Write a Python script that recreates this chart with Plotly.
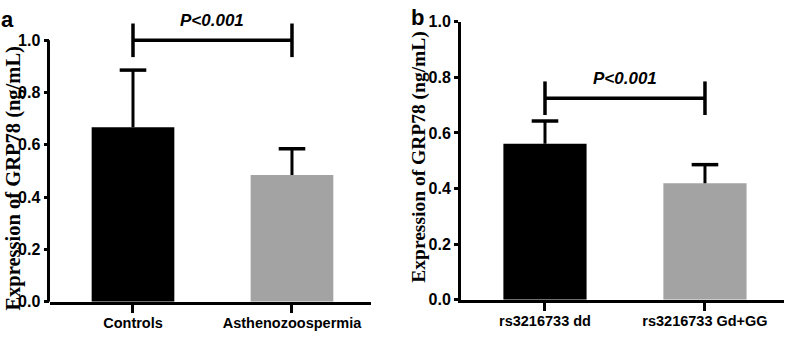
import plotly.graph_objects as go

# ---- data ----
cats_a = ["Controls", "Asthenozoospermia"]
mean_a = [0.667, 0.485]
sd_a = [0.219, 0.100]

cats_b = ["rs3216733 dd", "rs3216733 Gd+GG"]
mean_b = [0.561, 0.419]
sd_b = [0.082, 0.067]

sig_y_a = 1.0
sig_y_b = 0.725
sig_label = "P<0.001"

y_ticks = [0.0, 0.2, 0.4, 0.6, 0.8, 1.0]
y_ticktext = ["0.0", "0.2", "0.4", "0.6", "0.8", "1.0"]
y_title = "Expression of GRP78 (ng/mL)"

bar_colors = ["#000000", "#a3a3a3"]
SANS = "Liberation Sans, Arial, sans-serif"
SERIF = "Liberation Serif, Times New Roman, serif"

fig = go.Figure()


def add_panel(cats, means, sds, sig_y, xa, ya):
    xs = list(range(len(cats)))
    fig.add_trace(go.Bar(
        x=xs, y=means, marker=dict(color=bar_colors, line=dict(width=0)),
        error_y=dict(type="data", symmetric=False, array=sds,
                     arrayminus=[0] * len(sds), width=0, thickness=3,
                     color="#000000"),
        xaxis=xa, yaxis=ya, showlegend=False, hoverinfo="skip"))
    # whisker caps
    fig.add_trace(go.Scatter(
        x=xs, y=[m + s for m, s in zip(means, sds)], mode="markers",
        marker=dict(symbol="line-ew", size=19, color="#000000",
                    line=dict(width=3.5, color="#000000")),
        xaxis=xa, yaxis=ya, showlegend=False, hoverinfo="skip",
        cliponaxis=False))
    # significance bracket
    fig.add_trace(go.Scatter(
        x=[xs[0], xs[-1]], y=[sig_y, sig_y], mode="lines+markers",
        line=dict(color="#000000", width=3.5),
        marker=dict(symbol="line-ns", size=24, color="#000000",
                    line=dict(width=3.5, color="#000000")),
        xaxis=xa, yaxis=ya, showlegend=False, hoverinfo="skip",
        cliponaxis=False))
    fig.add_annotation(
        x=(xs[0] + xs[-1]) / 2, y=sig_y, xref=xa, yref=ya.replace("axis", ""),
        text="<b><i>" + sig_label + "</i></b>", showarrow=False,
        yanchor="middle", yshift=19.5,
        font=dict(family=SANS, size=17, color="#000000"))


add_panel(cats_a, mean_a, sd_a, sig_y_a, "x", "y")
add_panel(cats_b, mean_b, sd_b, sig_y_b, "x2", "y2")

axis_common = dict(linewidth=3, linecolor="#000000",
                   ticks="outside", tickwidth=3, tickcolor="#000000",
                   showgrid=False, zeroline=False, fixedrange=True)
xfont = dict(family=SANS, size=14.5, color="#000000", weight="bold")
yfont = dict(family=SANS, size=16, color="#000000", weight="bold")

# panel a: a little headroom so the bracket at 1.0 is not clipped;
# its y axis line is drawn as a shape from 0 to 1.0
ya_top_extra = 0.02
px_per_unit_a = 309 - 34

fig.update_layout(
    width=787, height=342, autosize=False,
    margin=dict(l=0, r=0, t=0, b=0),
    paper_bgcolor="#ffffff", plot_bgcolor="#ffffff",
    bargap=0.48,
    xaxis=dict(domain=[50 / 787, 371 / 787], range=[-0.522, 1.497],
               tickvals=[0, 1], ticktext=cats_a, ticklen=8, anchor="y",
               tickfont=xfont, ticklabelstandoff=-2, showline=True,
               **axis_common),
    yaxis=dict(domain=[(342 - 309) / 342,
                       (342 - 34 + ya_top_extra * px_per_unit_a) / 342],
               range=[0, 1 + ya_top_extra],
               tickvals=y_ticks, ticktext=y_ticktext, ticklen=5.5, anchor="x",
               tickfont=yfont, showline=False, **axis_common),
    xaxis2=dict(domain=[461 / 787, 784 / 787], range=[-0.525, 1.494],
                tickvals=[0, 1], ticktext=cats_b, ticklen=8, anchor="y2",
                tickfont=xfont, ticklabelstandoff=-2, showline=True,
                **axis_common),
    yaxis2=dict(domain=[(342 - 307) / 342, (342 - 14.5) / 342], range=[0, 1],
                tickvals=y_ticks, ticktext=y_ticktext, ticklen=4, anchor="x2",
                tickfont=yfont, showline=True, **axis_common),
)

# y axis line of panel a (0 .. 1.0)
fig.add_shape(type="line", xref="x domain", yref="y", x0=-0.0047, x1=-0.0047,
              y0=y_ticks[0], y1=y_ticks[-1],
              line=dict(color="#000000", width=3))

# y axis titles
fig.add_annotation(x=0, y=(342 - 180) / 342, xref="paper", yref="paper",
                   text="<b>" + y_title + "</b>", textangle=-90, showarrow=False,
                   xanchor="left", yanchor="middle",
                   font=dict(family=SERIF, size=20.5, color="#000000"))
fig.add_annotation(x=419 / 787, y=(342 - 156.5) / 342, xref="paper", yref="paper",
                   text="<b>" + y_title + "</b>", textangle=-90, showarrow=False,
                   xanchor="center", yanchor="middle",
                   font=dict(family=SERIF, size=19.5, color="#000000"))

# panel letters
fig.add_annotation(x=7 / 787, y=(342 - 12) / 342, xref="paper", yref="paper",
                   text="<b>a</b>", showarrow=False, xanchor="center",
                   yanchor="middle",
                   font=dict(family=SANS, size=22, color="#000000"))
fig.add_annotation(x=418 / 787, y=(342 - 10) / 342, xref="paper", yref="paper",
                   text="<b>b</b>", showarrow=False, xanchor="center",
                   yanchor="middle",
                   font=dict(family=SANS, size=22, color="#000000"))

fig.write_html(
    "out.html",
    config={"displayModeBar": False, "responsive": False},
    post_script=(
        "document.documentElement.style.overflow='hidden';"
        "document.body.style.margin='0';"
        "document.body.style.overflow='hidden';"
        "var gd=document.getElementById('{plot_id}');"
        "Plotly.relayout(gd,{width:787,height:342});"
    ))
